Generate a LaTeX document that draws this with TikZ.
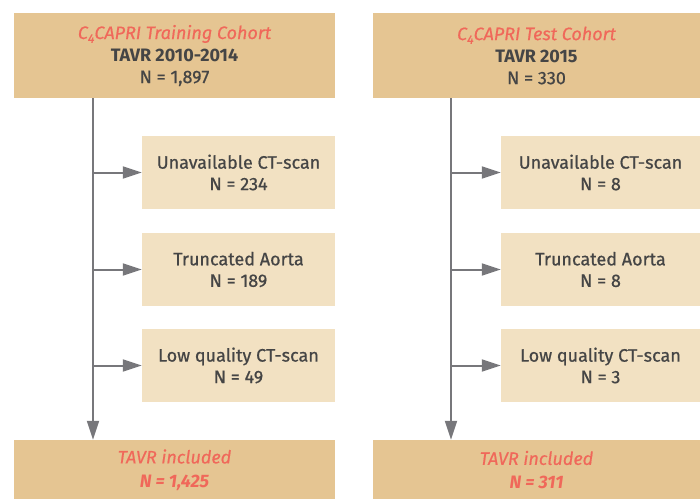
\documentclass[tikz,border=0pt]{standalone}
\usepackage{fontspec}
\setmainfont{Fira Sans}[UprightFeatures={FakeBold=0.7},ItalicFeatures={FakeBold=0.5}]
\usetikzlibrary{arrows.meta}

\definecolor{cohort}{HTML}{E5C592}
\definecolor{excl}{HTML}{F2E1C2}
\definecolor{capri}{HTML}{F0685A}
\definecolor{ink}{HTML}{454545}
\definecolor{flow}{HTML}{77777B}

\newcommand{\capri}[1]{{\color{capri}\itshape C\raisebox{-.4ex}{\fontsize{12.5}{12}\selectfont 4}CAPRI #1}}

\tikzset{
  cohortbox/.style={fill=cohort, inner sep=0pt, align=center, text=ink,
    font=\fontsize{18}{22}\selectfont},
  exclbox/.style={fill=excl, inner sep=0pt, align=center, text=ink,
    minimum height=73pt, font=\fontsize{18}{21.5}\selectfont},
  inclbox/.style={fill=cohort, inner sep=0pt, align=center, text=capri,
    font=\fontsize{18}{24}\selectfont\itshape},
  flowline/.style={draw=flow, line width=2pt,
    -{Triangle[length=19pt,width=12pt,fill=flow]}}
}

\begin{document}
\begin{tikzpicture}[x=1pt,y=-1pt]
  \useasboundingbox (0,0) rectangle (700,498);

  % training cohort (left)
  \node[cohortbox, minimum width=321pt, minimum height=85pt] (train) at (174.5,55.5)
    {\capri{Training Cohort}\\\textbf{TAVR 2010-2014}\\N = 1,897};
  \node[exclbox, minimum width=193pt] (trainCT) at (238.5,172.5) {Unavailable CT-scan\\N = 234};
  \node[exclbox, minimum width=193pt] (trainAo) at (238.5,269.5) {Truncated Aorta\\N = 189};
  \node[exclbox, minimum width=193pt] (trainLQ) at (238.5,365.5) {Low quality CT-scan\\N = 49};
  \node[inclbox, minimum width=321pt, minimum height=60pt] (trainIn) at (174.5,470)
    {TAVR included\\\textbf{N = 1,425}};

  % test cohort (right)
  \node[cohortbox, minimum width=327pt, minimum height=85pt] (test) at (536.5,55.5)
    {\capri{Test Cohort}\\\textbf{TAVR 2015}\\N = 330};
  \node[exclbox, minimum width=199pt] (testCT) at (600.5,172.5) {Unavailable CT-scan\\N = 8};
  \node[exclbox, minimum width=199pt] (testAo) at (600.5,269.5) {Truncated Aorta\\N = 8};
  \node[exclbox, minimum width=199pt] (testLQ) at (600.5,365.5) {Low quality CT-scan\\N = 3};
  \node[inclbox, minimum width=327pt, minimum height=60pt] (testIn) at (536.5,470)
    {TAVR included\\\textbf{N = 311}};

  % main stems
  \coordinate (trainStem) at (93,98);
  \coordinate (testStem) at (451,98);
  \draw[flowline] (trainStem) -- (trainStem |- trainIn.north);
  \draw[flowline] (testStem) -- (testStem |- testIn.north);

  % exclusions
  \foreach \ex in {CT,Ao,LQ} {
    \draw[flowline] (trainStem |- train\ex.west) -- (train\ex.west);
    \draw[flowline] (testStem |- test\ex.west) -- (test\ex.west);
  }
\end{tikzpicture}
\end{document}
